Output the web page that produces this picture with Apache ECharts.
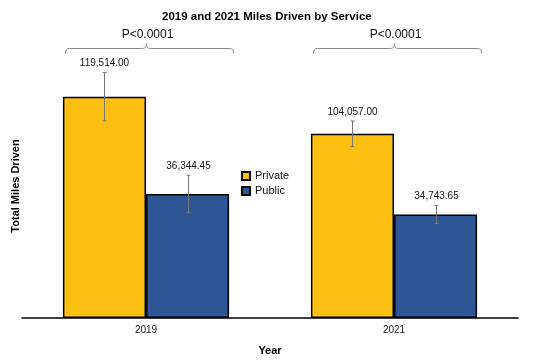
<!DOCTYPE html>
<html>
<head>
<meta charset="utf-8">
<script src="https://cdn.jsdelivr.net/npm/echarts@6/dist/echarts.min.js"></script>
<style>html,body{margin:0;padding:0;background:#fff}#c{width:550px;height:361px}</style>
</head>
<body>
<div id="c"></div>
<script>
// ---- data ----
const categories = ['2019', '2021'];
const seriesNames = ['Private', 'Public'];
// bar heights as drawn (miles)
const privateValues = [119514, 99470];
const publicValues = [67020, 55850];
// error bar half-lengths (miles)
const privateErrors = [13030, 6900];
const publicErrors = [10100, 4800];
// value labels as printed
const privateLabels = ['119,514.00', '104,057.00'];
const publicLabels = ['36,344.45', '34,743.65'];
// significance labels
const pLabels = ['P<0.0001', 'P<0.0001'];

const yMax = 142550;
const catGap = 0.33;
const FONT = '"Liberation Sans", Arial, sans-serif';

const errData = [];
const errLabels = [];
categories.forEach((c, i) => {
  errData.push([i, privateValues[i], privateErrors[i], 0]);
  errLabels.push(privateLabels[i]);
  errData.push([i, publicValues[i], publicErrors[i], 1]);
  errLabels.push(publicLabels[i]);
});

const chart = echarts.init(document.getElementById('c'), null, {renderer: 'canvas'});
chart.setOption({
  animation: false,
  backgroundColor: '#fff',
  title: {
    text: '2019 and 2021 Miles Driven by Service',
    left: 157, top: 6,
    textStyle: {fontFamily: FONT, fontSize: 11.5, fontWeight: 'bold', color: '#000'}
  },
  legend: {
    data: seriesNames,
    orient: 'vertical',
    left: 236, top: 164,
    itemWidth: 8, itemHeight: 8, itemGap: 1,
    icon: 'rect',
    textStyle: {fontFamily: FONT, fontSize: 11, color: '#111', lineHeight: 14}
  },
  grid: {left: 22, right: 32, top: 54, bottom: 39},
  xAxis: {
    type: 'category',
    data: categories,
    name: 'Year',
    nameLocation: 'middle',
    nameGap: 27,
    nameTextStyle: {fontFamily: FONT, fontSize: 11, fontWeight: 'bold', color: '#000'},
    axisLine: {lineStyle: {color: '#000', width: 1.5}},
    axisTick: {show: false},
    axisLabel: {fontFamily: FONT, fontSize: 10, color: '#222', margin: 7},
    z: 10
  },
  yAxis: {
    type: 'value',
    min: 0, max: yMax,
    name: 'Total Miles Driven',
    nameLocation: 'middle',
    nameGap: 1,
    nameTextStyle: {fontFamily: FONT, fontSize: 11, fontWeight: 'bold', color: '#000'},
    axisLine: {show: false},
    axisTick: {show: false},
    axisLabel: {show: false},
    splitLine: {show: false}
  },
  series: [
    {
      name: 'Private', type: 'bar', data: privateValues,
      barGap: '0%', barCategoryGap: (catGap * 100) + '%',
      itemStyle: {color: '#FDC012', borderColor: '#000', borderWidth: 1.5}
    },
    {
      name: 'Public', type: 'bar', data: publicValues,
      itemStyle: {color: '#2E5596', borderColor: '#000', borderWidth: 1.5}
    },
    {
      type: 'custom', name: 'errors', z: 5,
      data: errData,
      renderItem: function (params, api) {
        const cat = api.value(0), v = api.value(1), e = api.value(2), s = api.value(3);
        const band = api.size([1, 0])[0];
        const barW = band * (1 - catGap) / 2;
        const off = (s === 0 ? -0.5 : 0.5) * barW;
        const top = api.coord([cat, v + e]);
        const bot = api.coord([cat, v - e]);
        const x = Math.round(top[0] + off) + 0.5;
        const st = {stroke: '#777', lineWidth: 1};
        return {
          type: 'group',
          children: [
            {type: 'line', shape: {x1: x, y1: top[1], x2: x, y2: bot[1]}, style: st},
            {type: 'line', shape: {x1: x - 2, y1: top[1], x2: x + 2, y2: top[1]}, style: st},
            {type: 'line', shape: {x1: x - 2, y1: bot[1], x2: x + 2, y2: bot[1]}, style: st},
            {type: 'text', x: x, y: top[1] - 9, style: {
              text: errLabels[params.dataIndex], align: 'center', verticalAlign: 'middle',
              fontFamily: FONT, fontSize: 10, fill: '#111'}}
          ]
        };
      }
    },
    {
      type: 'custom', name: 'brackets', z: 5,
      data: categories.map((c, i) => [i]),
      renderItem: function (params, api) {
        const cat = api.value(0);
        const band = api.size([1, 0])[0];
        const barW = band * (1 - catGap) / 2;
        const p = api.coord([cat, yMax]);
        const xm = Math.round(p[0]) + 0.5;
        const x1 = xm - barW + 2, x2 = xm + barW + 4;
        const y = Math.round(p[1] - 6) + 0.5;
        const path = 'M' + x1 + ' ' + (y + 5) + ' Q' + x1 + ' ' + y + ' ' + (x1 + 4) + ' ' + y +
          ' L' + (xm - 4) + ' ' + y + ' Q' + xm + ' ' + y + ' ' + xm + ' ' + (y - 5) +
          ' Q' + xm + ' ' + y + ' ' + (xm + 4) + ' ' + y +
          ' L' + (x2 - 4) + ' ' + y + ' Q' + x2 + ' ' + y + ' ' + x2 + ' ' + (y + 5);
        return {
          type: 'group',
          children: [
            {type: 'path', shape: {pathData: path}, style: {stroke: '#8a8a8a', lineWidth: 1, fill: null}},
            {type: 'text', x: xm + 1, y: y - 14, style: {
              text: pLabels[params.dataIndex], align: 'center', verticalAlign: 'middle',
              fontFamily: FONT, fontSize: 12, fill: '#111'}}
          ]
        };
      }
    }
  ]
});
</script>
</body>
</html>
